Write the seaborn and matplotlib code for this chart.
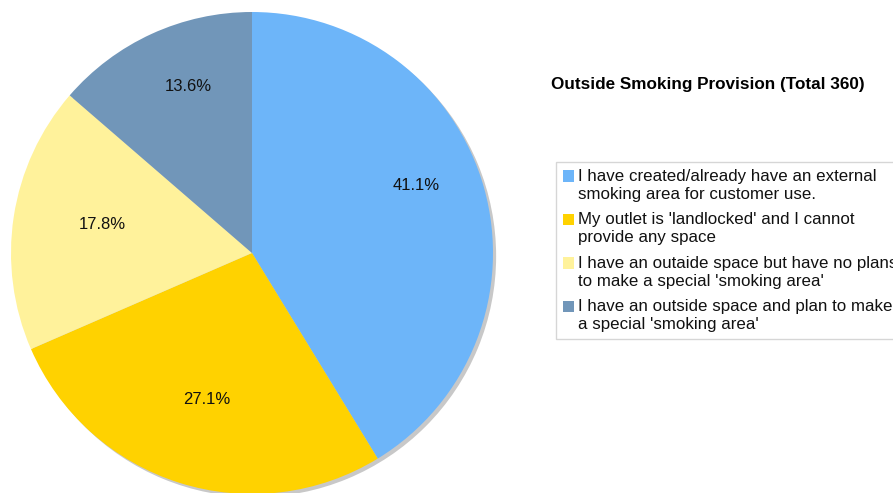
import matplotlib
matplotlib.use("Agg")
import matplotlib.pyplot as plt
from matplotlib.patches import Rectangle
from matplotlib.legend_handler import HandlerBase
import seaborn as sns

categories = [
    "I have created/already have an external\nsmoking area for customer use.",
    "My outlet is 'landlocked' and I cannot\nprovide any space",
    "I have an outaide space but have no plans\nto make a special 'smoking area'",
    "I have an outside space and plan to make\na special 'smoking area'",
]
percentages = [41.1, 27.1, 17.8, 13.6]
colors = ["#6db5f9", "#ffd200", "#fff29b", "#7196b9"]
title = "Outside Smoking Provision (Total 360)"

sns.set_theme(style="white")
plt.rcParams["font.family"] = ["Liberation Sans", "DejaVu Sans"]

FS = 12.2
W, H = 893, 493
fig = plt.figure(figsize=(W / 100, H / 100), dpi=100)
fig.patch.set_facecolor("white")

# square axes centred at pie centre (252, 253) px, radius 241 px
S = 500
cx, cy, R = 252, 253, 241
ax = fig.add_axes([(cx - S / 2) / W, (H - cy - S / 2) / H, S / W, S / H])
lim = (S / 2) / R

# shadow
ax.pie([1], colors=["#c8c8c8"], radius=1.0, center=(0.013, -0.013),
       wedgeprops=dict(linewidth=0))

total = sum(percentages)
wedges, texts, autotexts = ax.pie(
    percentages, colors=colors, startangle=90, counterclock=False,
    radius=1.0, pctdistance=0.69,
    autopct=lambda p: f"{p * total / 100:.1f}%",
    wedgeprops=dict(linewidth=0),
    textprops=dict(fontsize=12, color="#111111"),
)
# label nudges (pixels) to mimic the reference label placement
nudges = [(4, -22), (5, -12), (15, -3), (5, -15)]
for t, (dx, dy) in zip(autotexts, nudges):
    x, y = t.get_position()
    t.set_position((x + dx / R, y - dy / R))

ax.set_xlim(-lim, lim)
ax.set_ylim(-lim, lim)
ax.set_aspect("equal")
ax.axis("off")

fig.text(551 / W, 1 - 85 / H, title, ha="left", va="center",
         fontsize=12.3, fontweight="bold", color="#000000")


class TopSquare(HandlerBase):
    def create_artists(self, legend, orig_handle, xdescent, ydescent,
                       width, height, fontsize, trans):
        s = 0.68 * fontsize
        yc = 0.36 * fontsize + 0.55 * fontsize
        r = Rectangle((-xdescent, yc - s / 2), s, s,
                      facecolor=orig_handle.get_facecolor(),
                      edgecolor="none", transform=trans)
        return [r]


leg = fig.legend(
    wedges, categories, loc="upper left",
    bbox_to_anchor=(556 / W, 1 - 162 / H), bbox_transform=fig.transFigure,
    borderaxespad=0, frameon=True, fancybox=False, fontsize=FS,
    borderpad=0.4, handletextpad=0.2, handlelength=0.68, handleheight=0.7,
    labelspacing=0.62, handler_map={matplotlib.patches.Wedge: TopSquare()},
)
leg.get_frame().set_edgecolor("#cccccc")
leg.get_frame().set_linewidth(1.0)
for t in leg.get_texts():
    t.set_color("#111111")
    t.set_linespacing(1.25)

fig.savefig("out.png", dpi=100)
